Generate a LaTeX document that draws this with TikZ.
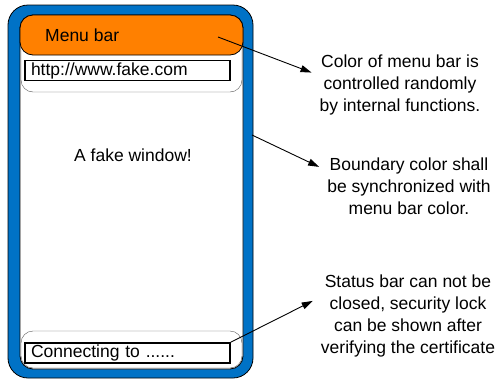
\documentclass[tikz,border=0pt]{standalone}
\usepackage{fontspec}
\setmainfont{Liberation Sans}
\usetikzlibrary{arrows.meta,positioning}
\definecolor{frameblue}{RGB}{0,114,198}
\definecolor{menuorange}{RGB}{255,128,0}

\begin{document}
\begin{tikzpicture}[x=1pt,y=-1pt,
	note/.style={font=\fontsize{17.5}{22}\selectfont, align=center, inner xsep=8pt, inner ysep=2pt},
	barbox/.style={draw, line width=1.6pt, minimum height=20pt, text width=193pt, align=left, inner xsep=6pt, inner ysep=0pt, font=\fontsize{17.5}{20}\selectfont},
	pointer/.style={-{Triangle[length=11pt,width=7pt]}, line width=0.9pt}]
	\useasboundingbox (0,0) rectangle (496,381);
	% window
	\draw[fill=frameblue, line width=0.8pt, rounded corners=20pt] (8,5) rectangle (253,378);
	\draw[fill=white, line width=0.8pt, rounded corners=13pt] (20,15) rectangle (243,369);
	\draw[gray!70!black, rounded corners=12pt] (21,16) rectangle (242,92);
	\draw[gray!70!black, rounded corners=12pt] (21,331) rectangle (242,368);
	\draw[fill=menuorange, line width=0.8pt, rounded corners=13pt] (20,15) rectangle (243,55);
	\node[anchor=west, inner sep=0pt, font=\fontsize{17.5}{20}\selectfont] (menu) at (45,35) {Menu bar};
	\node[barbox] (url) at (127.5,70.5) {http://www.fake.com};
	\node[font=\fontsize{17.5}{20}\selectfont] (body) at (133,155) {A fake window!};
	\node[barbox] (status) at (127.5,353) {Connecting to ......};
	\coordinate (menuspot) at (218,37);
	\coordinate (edgespot) at (252,135);
	% notes
	\node[note] (note1) at (400,85) {Color of menu bar is\\controlled randomly\\by internal functions.};
	\node[note] (note2) at (409,186) {Boundary color shall\\be synchronized with\\menu bar color.};
	\node[note] (note3) at (408,316) {Status bar can not be\\closed, security lock\\can be shown after\\verifying the certificate};
	\draw[pointer] (menuspot) -- (note1.172);
	\draw[pointer] (edgespot) -- (note2.168);
	\draw[pointer] (status.north east) -- (note3.171);
\end{tikzpicture}
\end{document}
